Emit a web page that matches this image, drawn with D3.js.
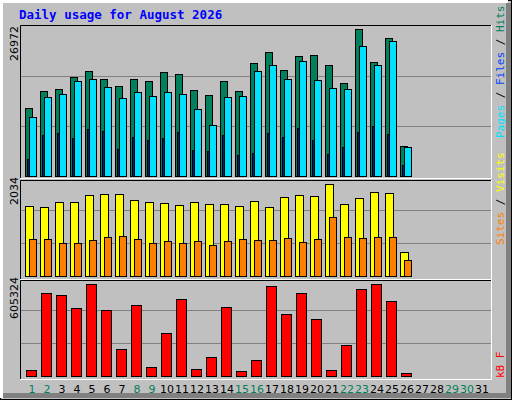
<!DOCTYPE html><html><head><meta charset="utf-8">
<script src="https://cdn.jsdelivr.net/npm/d3@7"></script>
<style>body{margin:0;background:#fff}</style></head><body><svg id="c" width="512" height="400"></svg>
<script>
const days = d3.range(1, 32);
const weekendDays = [1, 2, 8, 9, 15, 16, 22, 23, 29, 30];
const hits = [12172,15229,15589,17746,18825,17387,16128,17387,17027,18645,18286,15409,14510,17027,15229,20263,22241,19005,21522,21702,19904,16667,26377,20443,24758,5340];
const files = [10554,14150,14690,17027,17387,15948,13970,15049,14330,15049,14690,11993,9116,14150,14330,18825,19904,17387,20623,17207,15768,15589,23320,19904,24219,5160];
const pages = [3003,7318,7677,6778,8397,8037,4801,6958,6419,6778,7857,4621,4441,7318,3722,4081,7677,6958,8576,6419,3902,5160,7857,8936,7498,1924];
const visits = [1432,1412,1515,1515,1658,1679,1679,1556,1515,1494,1453,1515,1473,1473,1432,1535,1412,1617,1658,1638,1884,1473,1597,1720,1699,487];
const sites = [754,754,672,672,734,795,816,754,672,713,672,713,631,713,754,734,734,775,693,754,1206,795,775,795,795,323];
const kbytes = [36687,505630,493400,413900,560660,401700,163240,432260,53190,261070,468950,40960,114330,420040,28740,95990,548430,377240,505630,346670,34850,187700,530090,560660,456720,16510];
const maxLabels = ["26972", "2034", "605324"];

const svg = d3.select("#c");
const mono = "DejaVu Sans Mono, monospace";
svg.append("rect").attr("width",512).attr("height",400).attr("fill","#c0c0c0");
svg.append("rect").attr("x",0.5).attr("y",0.5).attr("width",511).attr("height",399).attr("fill","none").attr("stroke","#000");
svg.append("path").attr("d","M1.5,398 V1.5 H508").attr("stroke","#fff").attr("stroke-width",3).attr("fill","none");
svg.append("path").attr("d","M3,395.5 H508.5 V3").attr("stroke","#808080").attr("stroke-width",5).attr("fill","none");

svg.append("text").attr("x",19).attr("y",19).attr("font-family",mono).attr("font-weight","bold")
  .attr("font-size",12.5).attr("fill","#0000ff").text("Daily usage for August 2026");

const x = d3.scaleLinear().domain([1, 32]).range([25, 25 + 15 * 31]);
const L = 20, R = 491;
const panels = [
  {top:25, bottom:178, base:176, max:26972, maxY:26},
  {top:180, bottom:279, base:276, max:2034, maxY:177},
  {top:280, bottom:379, base:376, max:605324, maxY:277}
];
panels.forEach((p, k) => {
  const y = d3.scaleLinear().domain([0, p.max]).range([p.base, p.maxY]);
  p.y = y;
  const g = svg.append("g");
  [1/3, 2/3].forEach(f => g.append("line").attr("x1",L).attr("x2",R)
    .attr("y1",Math.round(y(p.max*f))+0.5).attr("y2",Math.round(y(p.max*f))+0.5).attr("stroke","#808080"));
  g.append("path").attr("d",`M${L+0.5},${p.bottom} V${p.top+0.5} H${R}`).attr("stroke","#000").attr("fill","none");
  g.append("path").attr("d",`M${L},${p.bottom+0.5} H${R+0.5} V${p.top}`).attr("stroke","#fff").attr("fill","none");
  g.append("text").attr("transform",`translate(${L-2},${p.maxY}) rotate(-90)`).attr("text-anchor","end")
    .attr("font-family","DejaVu Sans, sans-serif").attr("font-size",11).attr("fill","#000").text(maxLabels[k]);
});

function bars(arr, panel, off, w, color) {
  const y = panels[panel].y;
  svg.append("g").selectAll("rect").data(arr).join("rect")
    .attr("x",(d,i)=>x(i+1)+off+0.5).attr("y",d=>Math.round(y(d))+0.5)
    .attr("width",w).attr("height",d=>panels[panel].base-Math.round(y(d)))
    .attr("fill",color).attr("stroke","#000");
}
bars(hits,0,0,7,"#00805c");
bars(files,0,4,7,"#00e0ff");
bars(pages,0,2,1.5,"#0040ff");
bars(visits,1,0,8,"#ffff00");
bars(sites,1,4,7,"#ff8000");
bars(kbytes,2,1,10,"#ff0000");

svg.append("g").selectAll("text").data(days).join("text")
  .attr("x",d=>x(d)+7).attr("y",393).attr("text-anchor","middle")
  .attr("font-family","DejaVu Sans, sans-serif").attr("font-size",11)
  .attr("fill",d=>weekendDays.includes(d)?"#00805c":"#000").text(d=>d);

function rightLabel(yPos, parts) {
  const t = svg.append("text").attr("transform",`translate(497,${yPos}) rotate(90)`)
    .attr("font-family",mono).attr("font-size",11);
  parts.forEach(([s,c]) => t.append("tspan").attr("fill",c).text(s));
}
// rotated 90 reads top->bottom; reference reads bottom->top, so rotate -90
function leftRead(xPos, yPos, parts) {
  const t = svg.append("text").attr("transform",`translate(${xPos},${yPos}) rotate(-90)`)
    .attr("font-family",mono).attr("font-size",11);
  parts.forEach(([s,c]) => t.append("tspan").attr("fill",c).text(s));
}
leftRead(504,138,[["Pages","#00e0ff"],[" / ","#000"],["Files","#0040ff"],[" / ","#000"],["Hits","#00805c"]]);
leftRead(504,245,[["Sites","#ff8000"],[" / ","#000"],["Visits","#ffff00"]]);
leftRead(504,378,[["kB F","#ff0000"]]);
</script></body></html>
